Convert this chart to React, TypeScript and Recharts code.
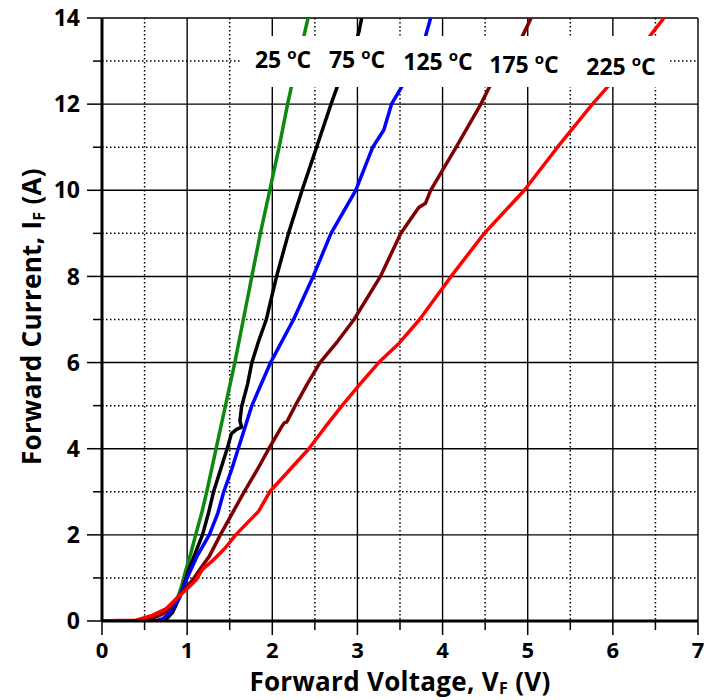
import { LineChart, Line, XAxis, YAxis, CartesianGrid } from "recharts";

// forward voltage (V) / forward current (A)
const v25 = [0, 0.3, 0.6, 0.72, 0.78, 0.85, 0.93, 0.98, 1.04, 1.1, 1.17, 1.23, 1.34, 1.45, 1.56, 1.66, 1.76, 1.86, 1.97, 2.08, 2.18, 2.28, 2.35, 2.42];
const i25 = [0, 0, 0, 0.01, 0.08, 0.32, 0.78, 1.15, 1.55, 2.0, 2.5, 3.0, 4.0, 5.0, 6.0, 7.0, 8.0, 9.0, 10.0, 11.0, 12.0, 12.9, 13.4, 14.0];

const v75 = [0, 0.3, 0.6, 0.67, 0.75, 0.83, 0.93, 1.02, 1.1, 1.18, 1.25, 1.31, 1.39, 1.47, 1.52, 1.58, 1.64, 1.62, 1.64, 1.71, 1.76, 1.84, 1.93, 2.05, 2.19, 2.35, 2.52, 2.69, 2.78, 2.96, 3.02, 3.05];
const i75 = [0, 0, 0, 0, 0.05, 0.2, 0.63, 1.2, 1.6, 2.0, 2.5, 3.0, 3.5, 4.0, 4.35, 4.45, 4.5, 4.65, 4.98, 5.5, 6.0, 6.5, 7.0, 8.0, 9.0, 10.0, 11.0, 12.0, 12.5, 13.3, 13.7, 14.0];

const v125 = [0, 0.3, 0.55, 0.63, 0.71, 0.79, 0.91, 1.0, 1.12, 1.26, 1.36, 1.43, 1.52, 1.6, 1.76, 1.98, 2.25, 2.48, 2.69, 2.98, 3.18, 3.31, 3.4, 3.55, 3.76, 3.86];
const i125 = [0, 0, 0, 0, 0.05, 0.17, 0.55, 1.0, 1.52, 2.0, 2.5, 3.0, 3.5, 4.0, 5.0, 6.0, 7.0, 8.0, 9.0, 10.0, 11.0, 11.4, 12.0, 12.5, 13.3, 14.0];

const v175 = [0, 0.3, 0.5, 0.6, 0.75, 0.91, 1.06, 1.18, 1.26, 1.39, 1.53, 1.67, 1.82, 1.96, 2.1, 2.14, 2.17, 2.27, 2.41, 2.56, 2.77, 2.96, 3.27, 3.51, 3.72, 3.8, 3.86, 4.16, 4.45, 4.55, 4.86, 5.04];
const i175 = [0, 0, 0.02, 0.06, 0.2, 0.6, 0.94, 1.28, 1.5, 2.0, 2.5, 3.0, 3.5, 4.0, 4.48, 4.6, 4.62, 5.0, 5.5, 6.0, 6.5, 7.0, 8.0, 9.0, 9.6, 9.7, 10.0, 11.0, 12.0, 12.4, 13.26, 14.0];

const v225 = [0, 0.2, 0.4, 0.59, 0.75, 0.89, 1.0, 1.1, 1.18, 1.3, 1.45, 1.57, 1.84, 1.97, 2.2, 2.43, 2.62, 2.82, 3.03, 3.25, 3.49, 3.73, 4.1, 4.49, 4.96, 5.35, 5.76, 5.92, 6.38, 6.6];
const i225 = [0, 0.01, 0.02, 0.13, 0.28, 0.55, 0.75, 0.94, 1.2, 1.4, 1.7, 2.0, 2.55, 3.0, 3.5, 4.0, 4.5, 5.0, 5.5, 6.0, 6.45, 7.0, 8.0, 9.0, 10.0, 11.0, 12.0, 12.36, 13.44, 14.0];

const temps = ["25", "75", "125", "175", "225"];
const colors = ["#0c8a0c", "#000000", "#0000ff", "#7f0000", "#ff0000"];

const xTicks = [0, 0.5, 1, 1.5, 2, 2.5, 3, 3.5, 4, 4.5, 5, 5.5, 6, 6.5, 7];
const yTicks = [0, 1, 2, 3, 4, 5, 6, 7, 8, 9, 10, 11, 12, 13, 14];
const xMajor = [1, 2, 3, 4, 5, 6, 7];
const xMinor = [0.5, 1.5, 2.5, 3.5, 4.5, 5.5, 6.5];
const yMajor = [2, 4, 6, 8, 10, 12, 14];
const yMinor = [1, 3, 5, 7, 9, 11, 13];

const toPoints = (v: number[], i: number[]) => v.map((x, k) => ({ v: x, i: i[k] }));
const series = [
  toPoints(v25, i25),
  toPoints(v75, i75),
  toPoints(v125, i125),
  toPoints(v175, i175),
  toPoints(v225, i225),
];

// label placement for the temperature tags (pixels)
const tagPos = [
  [283, 68],
  [357, 68],
  [438, 70],
  [524, 73],
  [621, 75],
];

const FONT = '"Open Sans", sans-serif';
const X_TICK_SIZE = 14;
const X_TICK_MARGIN = 7;
const Y_TICK_SIZE = 15;
const Y_TICK_MARGIN = 7;

const XTick = (props: any) => {
  const { x, y, payload } = props;
  const major = Number.isInteger(payload.value);
  const axisY = y - X_TICK_SIZE - X_TICK_MARGIN;
  return (
    <g>
      <line x1={x} x2={x} y1={axisY} y2={axisY + (major ? 14 : 9)} stroke="#000" strokeWidth={1.5} />
      {major && (
        <text x={x} y={y} dy="0.71em" textAnchor="middle" fontFamily={FONT} fontWeight={700} fontSize={22} fill="#000">
          {payload.value}
        </text>
      )}
    </g>
  );
};

const YTick = (props: any) => {
  const { x, y, payload } = props;
  const major = payload.value % 2 === 0;
  const axisX = x + Y_TICK_SIZE + Y_TICK_MARGIN;
  return (
    <g>
      <line x1={axisX - (major ? 15 : 9)} x2={axisX} y1={y} y2={y} stroke="#000" strokeWidth={1.5} />
      {major && (
        <text x={x} y={y} dy="0.355em" textAnchor="end" fontFamily={FONT} fontWeight={700} fontSize={23} fill="#000">
          {payload.value}
        </text>
      )}
    </g>
  );
};

const XTitle = (props: any) => {
  const vb = props.viewBox;
  return (
    <text x={vb.x + vb.width / 2} y={vb.y + 70} textAnchor="middle" fontFamily={FONT} fontWeight={700} fontSize={26} letterSpacing={0.3} fill="#000">
      Forward Voltage, V
      <tspan fontSize={16} dy={3}>F</tspan>
      <tspan dy={-3}> (V)</tspan>
    </text>
  );
};

const YTitle = (props: any) => {
  const vb = props.viewBox;
  const cx = 41;
  const cy = vb.y + vb.height / 2 - 3;
  return (
    <text x={cx} y={cy} transform={`rotate(-90 ${cx} ${cy})`} textAnchor="middle" fontFamily={FONT} fontWeight={700} fontSize={26} letterSpacing={0.3} fill="#000">
      Forward Current, I
      <tspan fontSize={16} dy={4}>F</tspan>
      <tspan dy={-4}> (A)</tspan>
    </text>
  );
};

export default function App() {
  return (
    <div style={{ position: "absolute", left: 0, top: 0, width: 709, height: 700, background: "#fff" }}>
      <LineChart width={709} height={700} margin={{ top: 18, right: 11, bottom: 0, left: 0 }}>
        <CartesianGrid
          stroke="#000"
          strokeWidth={1.5}
          strokeDasharray="1.5 2.5"
          horizontalValues={yMinor}
          verticalValues={xMinor}
        />
        <CartesianGrid stroke="#000" strokeWidth={1.4} horizontalValues={yMajor} verticalValues={xMajor} />
        <XAxis
          type="number"
          dataKey="v"
          domain={[0, 7]}
          ticks={xTicks}
          interval={0}
          allowDataOverflow
          height={79}
          tickSize={X_TICK_SIZE}
          tickMargin={X_TICK_MARGIN}
          tickLine={false}
          tick={<XTick />}
          axisLine={{ stroke: "#000", strokeWidth: 3 }}
          label={<XTitle />}
        />
        <YAxis
          type="number"
          domain={[0, 14]}
          ticks={yTicks}
          interval={0}
          allowDataOverflow
          width={102}
          tickSize={Y_TICK_SIZE}
          tickMargin={Y_TICK_MARGIN}
          tickLine={false}
          tick={<YTick />}
          axisLine={{ stroke: "#000", strokeWidth: 3 }}
          label={<YTitle />}
        />
        {series.map((pts, k) => (
          <Line
            key={temps[k]}
            data={pts}
            dataKey="i"
            type="linear"
            stroke={colors[k]}
            strokeWidth={3.5}
            strokeLinejoin="round"
            dot={false}
            isAnimationActive={false}
          />
        ))}
      </LineChart>
      <svg width={709} height={700} style={{ position: "absolute", left: 0, top: 0, pointerEvents: "none" }}>
        <rect x={240} y={36} width={430} height={51} fill="#fff" />
        {temps.map((t, k) => (
          <text key={t} x={tagPos[k][0]} y={tagPos[k][1]} textAnchor="middle" fontFamily={FONT} fontWeight={700} fontSize={23} fill="#000">
            {t + " "}
            <tspan fontSize={15} dy={-9}>o</tspan>
            <tspan dy={9}>C</tspan>
          </text>
        ))}
      </svg>
    </div>
  );
}
